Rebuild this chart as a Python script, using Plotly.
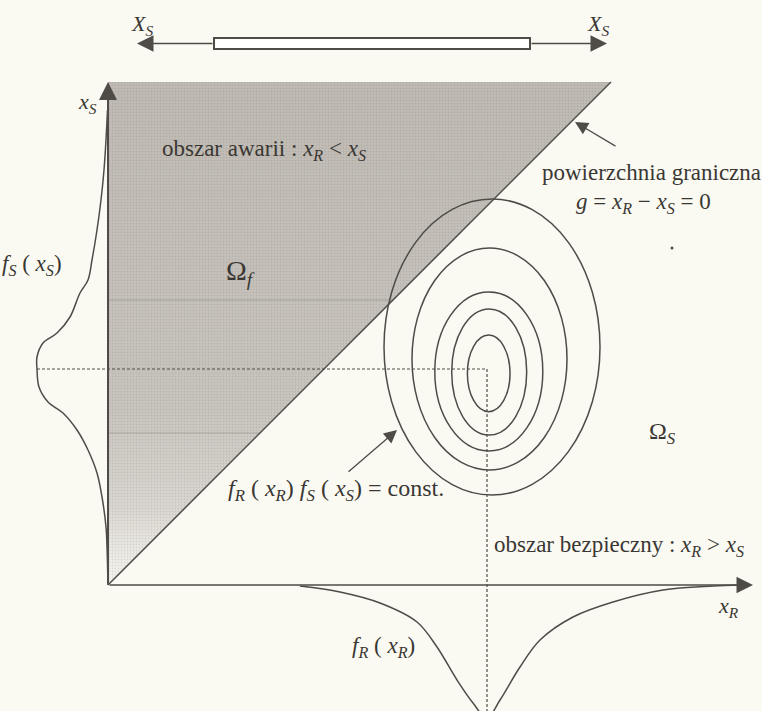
# -*- coding: utf-8 -*-
"""
Reliability diagram: failure / safe domain, limit state and joint density contours.
"""
import plotly.graph_objects as go

# diagram units: axis corner at (0, 0), x_R to the right, x_S upwards
X_R_MAX = 645
X_S_MAX = 503
LIMIT_END = 503

# mean point of the joint density
MEAN_R = 379
MEAN_S = 216

# resistance density f_R(x_R), drawn below the x_R axis
FR_X = [192, 232, 272, 309, 329, 349, 365, 379, 392, 412, 432, 465, 505, 555, 605, 632]
FR_Y = [1, 7, 18, 37, 62, 95, 118, 133, 115, 82, 55, 32, 17, 5, 1, 0]

# load density f_S(x_S), drawn left of the x_S axis
FS_X = [475, 445, 415, 385, 355, 325, 305, 292, 268, 252, 242, 228, 216,
        198, 183, 172, 155, 135, 112, 88, 58, 38, 0]
FS_Y = [0.5, 2, 4, 7, 11, 16, 20, 28, 38, 51, 65, 71, 71,
        69, 60, 45, 31, 20, 11, 6, 2, 1, 0]

# contour ellipses f_R * f_S = const. (centre and half axes)
CONTOUR_CX = [384, 381.5, 380.8, 381.2, 380.7]
CONTOUR_CY = [238, 226, 213.6, 213, 211.6]
CONTOUR_AX = [108, 77.5, 54, 37.5, 21.3]
CONTOUR_AY = [148, 111, 79.5, 63, 38.3]

# bar with the two end forces X_S at the top
BAR_X = [106, 422]
BAR_Y = [536, 547]
FORCE_TIPS = [29, 499]

LINE_COLOR = "#4f4c47"
TEXT_COLOR = "#3a3733"
BG_COLOR = "#fafaf3"
FONT = "Liberation Serif, Times New Roman, serif"


def _arrow(fig, x0, y0, x1, y1, width=1.5, size=2.0):
    fig.add_annotation(x=x1, y=y1, ax=x0, ay=y0,
                       xref="x", yref="y", axref="x", ayref="y",
                       text="", showarrow=True,
                       arrowhead=2, arrowsize=size, arrowwidth=width,
                       arrowcolor=LINE_COLOR, standoff=0)


def _label(fig, x, y, text, size=23, xanchor="center"):
    fig.add_annotation(x=x, y=y, text=text, showarrow=False,
                       xanchor=xanchor, yanchor="middle",
                       font={"family": FONT, "size": size, "color": TEXT_COLOR})


def _line(fig, x, y, width=1.5, dash=None, color=LINE_COLOR, shape="linear"):
    fig.add_trace(go.Scatter(x=x, y=y, mode="lines", hoverinfo="skip",
                             line={"color": color, "width": width,
                                   "dash": dash, "shape": shape}))


def build_figure():
    fig = go.Figure()

    # failure domain x_R < x_S
    tri_x = [0, 0, LIMIT_END, 0]
    tri_y = [0, X_S_MAX, LIMIT_END, 0]
    fig.add_trace(go.Scatter(
        x=tri_x, y=tri_y, mode="none", fill="toself", hoverinfo="skip",
        fillgradient={"type": "vertical", "start": 0, "stop": X_S_MAX,
                      "colorscale": [[0, "rgba(242,240,234,0.5)"],
                                     [0.15, "rgb(220,216,210)"],
                                     [0.35, "rgb(202,198,191)"],
                                     [1, "rgb(192,187,180)"]]}))
    fig.add_trace(go.Scatter(
        x=tri_x, y=tri_y, mode="none", fill="toself", hoverinfo="skip",
        fillcolor="rgba(0,0,0,0)",
        fillpattern={"shape": ".", "size": 3, "solidity": 0.3,
                     "fgcolor": "rgba(95,90,85,0.3)",
                     "bgcolor": "rgba(0,0,0,0)"}))
    # faint scan lines inside the shading
    for ys in [285, 152]:
        _line(fig, [0, ys], [ys, ys], width=1, color="rgba(95,90,85,0.3)")

    # limit state g = x_R - x_S = 0
    _line(fig, [0, LIMIT_END], [0, LIMIT_END], width=1.5)

    # dashed guides through the mean point
    _line(fig, [-max(FS_Y), MEAN_R], [MEAN_S, MEAN_S], width=1.2, dash="3px,2px")
    _line(fig, [MEAN_R, MEAN_R], [MEAN_S, -140], width=1.2, dash="3px,2px")

    # marginal densities
    _line(fig, FR_X, [-v for v in FR_Y], width=1.5, shape="spline")
    _line(fig, [-v for v in FS_Y], FS_X, width=1.5, shape="spline")

    # axes
    _arrow(fig, 0, 0, X_R_MAX, 0, width=1.5, size=2.2)
    _arrow(fig, 0, 0, 0, X_S_MAX, width=2, size=1.8)

    # contours of the joint density
    for cx, cy, ax, ay in zip(CONTOUR_CX, CONTOUR_CY, CONTOUR_AX, CONTOUR_AY):
        fig.add_shape(type="circle", xref="x", yref="y",
                      x0=cx - ax, x1=cx + ax, y0=cy - ay, y1=cy + ay,
                      line={"color": LINE_COLOR, "width": 1.5})

    # bar with the end forces
    fig.add_shape(type="rect", xref="x", yref="y",
                  x0=BAR_X[0], x1=BAR_X[1], y0=BAR_Y[0], y1=BAR_Y[1],
                  fillcolor="white", line={"color": LINE_COLOR, "width": 2})
    bar_mid = (BAR_Y[0] + BAR_Y[1]) / 2
    _arrow(fig, BAR_X[0], bar_mid, FORCE_TIPS[0], bar_mid, width=1.5, size=2.2)
    _arrow(fig, BAR_X[1], bar_mid, FORCE_TIPS[1], bar_mid, width=1.5, size=2.2)

    # pointer arrows
    _arrow(fig, 509, 438, 467, 463, width=1.3, size=2.0)
    _arrow(fig, 239, 112, 289, 155, width=1.3, size=2.0)

    # texts
    _label(fig, 34, 560, "<i>X</i><sub><i>S</i></sub>", size=22)
    _label(fig, 490, 560, "<i>X</i><sub><i>S</i></sub>", size=22)
    _label(fig, -21, 482, "<i>x</i><sub><i>S</i></sub>", size=22)
    _label(fig, 52, 435, "obszar awarii : <i>x</i><sub><i>R</i></sub> &lt; <i>x</i><sub><i>S</i></sub>",
           xanchor="left")
    _label(fig, 132, 313, "Ω<sub><i>f</i></sub>", size=28)
    _label(fig, -76, 320, "<i>f</i><sub><i>S</i></sub> ( <i>x</i><sub><i>S</i></sub>)")
    _label(fig, 543, 413, "powierzchnia graniczna")
    _label(fig, 535, 382, "<i>g</i> = <i>x</i><sub><i>R</i></sub> − <i>x</i><sub><i>S</i></sub> = 0")
    _label(fig, 228, 95,
           "<i>f</i><sub><i>R</i></sub> ( <i>x</i><sub><i>R</i></sub>) "
           "<i>f</i><sub><i>S</i></sub> ( <i>x</i><sub><i>S</i></sub>) = const.", size=24)
    _label(fig, 554, 152, "Ω<sub><i>S</i></sub>", size=24)
    _label(fig, 384, 39, "obszar bezpieczny : <i>x</i><sub><i>R</i></sub> &gt; <i>x</i><sub><i>S</i></sub>",
           xanchor="left")
    _label(fig, 620, -22, "<i>x</i><sub><i>R</i></sub>", size=22)
    _label(fig, 275, -62, "<i>f</i><sub><i>R</i></sub> ( <i>x</i><sub><i>R</i></sub>)")

    # small speck right of the limit state label
    fig.add_trace(go.Scatter(x=[564], y=[337], mode="markers", hoverinfo="skip",
                             marker={"size": 3, "color": LINE_COLOR}))

    fig.update_layout(width=762, height=711, autosize=False,
                      margin={"l": 0, "r": 0, "t": 0, "b": 0},
                      showlegend=False,
                      paper_bgcolor=BG_COLOR, plot_bgcolor=BG_COLOR)
    fig.update_xaxes(range=[-108, 654], visible=False, fixedrange=True)
    fig.update_yaxes(range=[-126, 585], visible=False, fixedrange=True)
    return fig


if __name__ == "__main__":
    figure = build_figure()
    figure.write_html("out.html",
                      config={"displayModeBar": False},
                      post_script="document.body.style.margin='0px';"
                                  "document.body.style.background='#fafaf3';")
